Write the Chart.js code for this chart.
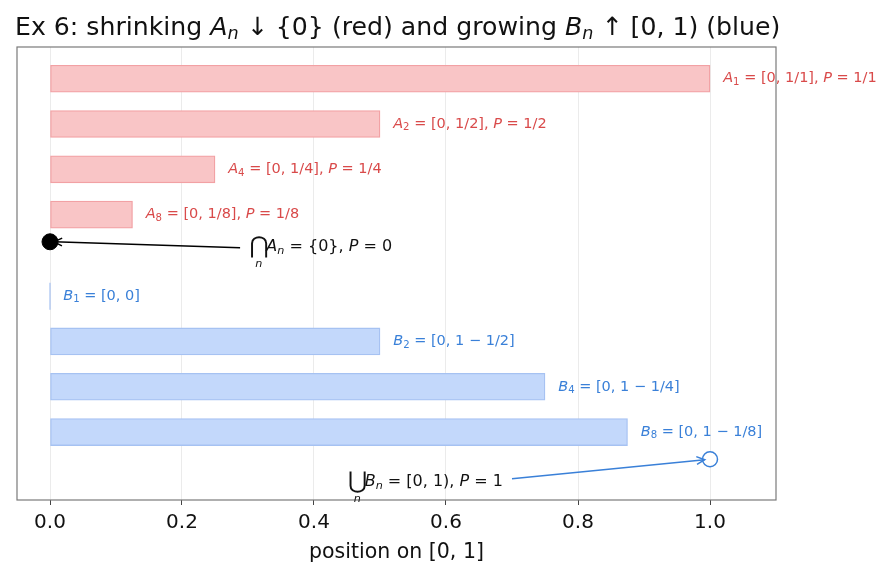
<!DOCTYPE html>
<html>
<head>
<meta charset="utf-8">
<script src="https://cdn.jsdelivr.net/npm/chart.js@4.4.1/dist/chart.umd.min.js"></script>
<style>
	html, body { margin: 0; padding: 0; background: #fff; }
	#wrap { width: 893px; height: 579px; position: relative; }
</style>
</head>
<body>
<div id="wrap"><canvas id="chart"></canvas></div>
<script>
// row positions (top to bottom, y axis is reversed)
const aRows = [0, 1, 2, 3];
const bRows = [4.8, 5.8, 6.8, 7.8];
const aEnds = [1, 0.5, 0.25, 0.125];
const bEnds = [0, 0.5, 0.75, 0.875];
const aIdx = ['1', '2', '4', '8'];
const aFrac = ['1/1', '1/2', '1/4', '1/8'];
const bIdx = ['1', '2', '4', '8'];
const bRight = ['0', '1 \u2212 1/2', '1 \u2212 1/4', '1 \u2212 1/8'];
const capPoint = { x: 0, y: 3.6 };
const cupPoint = { x: 1, y: 8.4 };
const xTicks = [0, 0.2, 0.4, 0.6, 0.8, 1.0];

const RED_TXT = '#d94a4a';
const BLUE_TXT = '#3a80d8';
const FONT = '"DejaVu Sans", sans-serif';

// draw a run of text pieces: [text, style]; style: n normal, i italic, s subscript, S sub-italic
let drawRich = (ctx, x, y, pieces, size, color) => {
	ctx.save();
	ctx.fillStyle = color;
	ctx.textBaseline = 'middle';
	ctx.textAlign = 'left';
	let cx = x;
	pieces.forEach(([txt, st]) => {
		let fs = size, dy = 0, it = '';
		if (st === 'i') { it = 'italic '; }
		if (st === 's' || st === 'S') { fs = size * 0.7; dy = size * 0.25; }
		if (st === 'S') { it = 'italic '; }
		ctx.font = it + fs + 'px ' + FONT;
		ctx.fillText(txt, cx, y + dy);
		cx += ctx.measureText(txt).width;
	});
	ctx.restore();
	return cx;
};

// big operator (cap / cup) with subscript n underneath
let drawBigOp = (ctx, x, y, op, size, color) => {
	ctx.save();
	ctx.fillStyle = color;
	ctx.textBaseline = 'middle';
	ctx.textAlign = 'left';
	ctx.font = (size * 1.45) + 'px ' + FONT;
	ctx.fillText(op, x, y);
	let w = ctx.measureText(op).width;
	ctx.font = 'italic ' + (size * 0.7) + 'px ' + FONT;
	ctx.textAlign = 'center';
	ctx.fillText('n', x + w / 2, y + size * 1.1);
	ctx.restore();
	return x + w;
};

let drawArrow = (ctx, x0, y0, x1, y1, color) => {
	ctx.save();
	ctx.strokeStyle = color;
	ctx.lineWidth = 1.5;
	ctx.beginPath();
	ctx.moveTo(x0, y0);
	ctx.lineTo(x1, y1);
	ctx.stroke();
	let a = Math.atan2(y1 - y0, x1 - x0), h = 9;
	ctx.beginPath();
	ctx.moveTo(x1 - h * Math.cos(a - 0.45), y1 - h * Math.sin(a - 0.45));
	ctx.lineTo(x1, y1);
	ctx.lineTo(x1 - h * Math.cos(a + 0.45), y1 - h * Math.sin(a + 0.45));
	ctx.stroke();
	ctx.restore();
};

// title, frame, bar labels and the two annotations
let decorations = {
	id: 'decorations',
	afterDatasetsDraw (chart) {
		let { ctx, chartArea, scales } = chart;
		let xs = scales.x, ys = scales.y;

		// zero-width B1 bar: only its edge shows
		let b1 = chart.getDatasetMeta(1).data[0];
		ctx.save();
		ctx.strokeStyle = '#a6c2f2';
		ctx.lineWidth = 1.2;
		ctx.beginPath();
		ctx.moveTo(b1.x, b1.y - b1.height / 2);
		ctx.lineTo(b1.x, b1.y + b1.height / 2);
		ctx.stroke();
		ctx.restore();

		// frame
		ctx.save();
		ctx.strokeStyle = '#7a7a7a';
		ctx.lineWidth = 1.2;
		ctx.strokeRect(chartArea.left, chartArea.top, chartArea.right - chartArea.left, chartArea.bottom - chartArea.top);
		ctx.restore();

		// bar labels
		aRows.forEach((r, i) => {
			drawRich(ctx, xs.getPixelForValue(aEnds[i] + 0.02), ys.getPixelForValue(r), [
				['A', 'i'], [aIdx[i], 's'], [' = [0, ' + aFrac[i] + '], ', 'n'], ['P', 'i'], [' = ' + aFrac[i], 'n'],
			], 14.5, RED_TXT);
		});
		bRows.forEach((r, i) => {
			drawRich(ctx, xs.getPixelForValue(bEnds[i] + 0.02), ys.getPixelForValue(r), [
				['B', 'i'], [bIdx[i], 's'], [' = [0, ' + bRight[i] + ']', 'n'],
			], 14.5, BLUE_TXT);
		});

		// intersection annotation
		drawArrow(ctx, xs.getPixelForValue(0.288), ys.getPixelForValue(3.73),
			xs.getPixelForValue(0.006), ys.getPixelForValue(3.6), '#000');
		let cx = drawBigOp(ctx, xs.getPixelForValue(0.302), ys.getPixelForValue(3.71), '\u22C2', 16, '#111');
		drawRich(ctx, cx - 2, ys.getPixelForValue(3.71), [
			['A', 'i'], ['n', 'S'], [' = {0}, ', 'n'], ['P', 'i'], [' = 0', 'n'],
		], 16, '#111');

		// union annotation
		drawArrow(ctx, xs.getPixelForValue(0.7), ys.getPixelForValue(8.83),
			xs.getPixelForValue(0.992), ys.getPixelForValue(8.41), BLUE_TXT);
		cx = drawBigOp(ctx, xs.getPixelForValue(0.451), ys.getPixelForValue(8.9), '\u22C3', 16, '#111');
		drawRich(ctx, cx - 2, ys.getPixelForValue(8.9), [
			['B', 'i'], ['n', 'S'], [' = [0, 1), ', 'n'], ['P', 'i'], [' = 1', 'n'],
		], 16, '#111');

		// title
		drawRich(ctx, 15, 28, [
			['Ex 6: shrinking ', 'n'], ['A', 'i'], ['n', 'S'], [' \u2193 {0} (red) and growing ', 'n'],
			['B', 'i'], ['n', 'S'], [' \u2191 [0, 1) (blue)', 'n'],
		], 25.2, '#111');

		// x axis title
		ctx.save();
		ctx.fillStyle = '#111';
		ctx.font = '20.5px ' + FONT;
		ctx.textAlign = 'center';
		ctx.textBaseline = 'middle';
		ctx.fillText('position on [0, 1]', (chartArea.left + chartArea.right) / 2, 553);
		ctx.restore();
	},
};

let chartEl = document.getElementById('chart');
chartEl.width = 893;
chartEl.height = 579;

new Chart(chartEl, {
	type: 'bar',
	data: {
		datasets: [
			{
				label: 'A',
				data: aRows.map((r, i) => ({ y: r, x: [0, aEnds[i]] })),
				backgroundColor: '#f9c5c6',
				borderColor: '#f2a1a4',
				borderWidth: 1.3,
				borderSkipped: false,
				barThickness: 27,
				grouped: false,
			},
			{
				label: 'B',
				data: bRows.map((r, i) => ({ y: r, x: [0, bEnds[i]] })),
				backgroundColor: '#c3d8fb',
				borderColor: '#a6c2f2',
				borderWidth: 1.3,
				borderSkipped: false,
				barThickness: 27,
				grouped: false,
			},
			{
				type: 'scatter',
				label: 'cap',
				data: [capPoint],
				pointRadius: 8,
				pointBackgroundColor: '#000',
				pointBorderColor: '#000',
			},
			{
				type: 'scatter',
				label: 'cup',
				data: [cupPoint],
				pointRadius: 7.5,
				pointBorderWidth: 1.5,
				pointBackgroundColor: '#fff',
				pointBorderColor: BLUE_TXT,
			},
		],
	},
	options: {
		indexAxis: 'y',
		responsive: false,
		animation: false,
		layout: { padding: { left: 17, right: 117, top: 47, bottom: 0 } },
		plugins: {
			legend: { display: false },
			tooltip: { enabled: false },
			title: { display: false },
		},
		scales: {
			x: {
				type: 'linear',
				min: -0.05,
				max: 1.1,
				afterBuildTicks: (scale) => { scale.ticks = xTicks.map(v => ({ value: v })); },
				afterFit: (scale) => { scale.height = 79; },
				grid: { color: '#ebebeb', lineWidth: 1, tickColor: '#444', tickLength: 5 },
				border: { display: false },
				ticks: {
					color: '#111',
					font: { size: 20, family: FONT },
					padding: 6,
					maxRotation: 0,
					callback: (v) => Number(v).toFixed(1),
				},
			},
			y: {
				type: 'linear',
				reverse: true,
				min: -0.7,
				max: 9.3,
				offset: false,
				display: false,
			},
		},
	},
	plugins: [ decorations ],
});
</script>
</body>
</html>
